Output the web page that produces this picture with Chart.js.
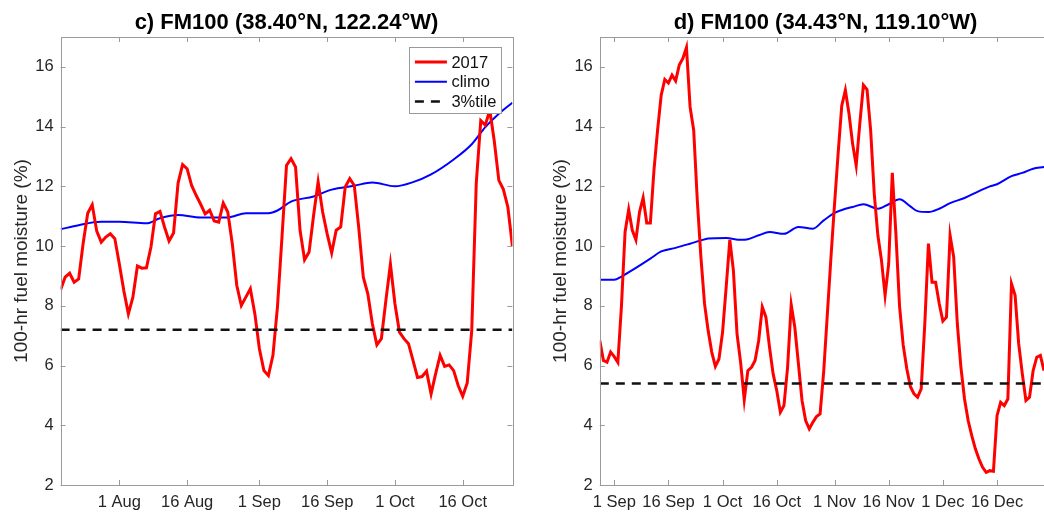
<!DOCTYPE html>
<html>
<head>
<meta charset="utf-8">
<title>FM100 2017</title>
<script src="https://cdn.jsdelivr.net/npm/chart.js@4.4.0/dist/chart.umd.min.js"></script>
<style>
  html, body { margin: 0; padding: 0; background: #fff; overflow: hidden; width: 1044px; height: 513px; }
  canvas { position: absolute; top: 0; }
  #chartC { left: 0; }
  #chartD { left: 540px; }
</style>
</head>
<body>
<canvas id="chartC" width="573" height="513"></canvas>
<canvas id="chartD" width="571" height="513"></canvas>
<script>
/*---------------------------- data, panel c ------------------------------*/
// one value per day, day 0 = 19 Jul 2017
var fm2017C = [
  8.54, 8.96, 9.09, 8.79, 8.90, 10.1, 11.1, 11.38, 10.5, 10.13,
  10.3, 10.41, 10.25, 9.4, 8.5, 7.73, 8.29, 9.33, 9.26, 9.27,
  9.97, 11.08, 11.16, 10.64, 10.17, 10.44, 12.11, 12.73, 12.59, 12.03,
  11.7, 11.4, 11.08, 11.2, 10.84, 10.8, 11.44, 11.14, 10.08, 8.68,
  8.01, 8.29, 8.57, 7.73, 6.56, 5.83, 5.66, 6.34, 7.96, 10.3,
  12.7, 12.93, 12.65, 10.53, 9.54, 9.8, 11.03, 12.15, 11.14, 10.41,
  9.77, 10.53, 10.64, 11.98, 12.26, 12.03, 10.6, 8.96, 8.4, 7.4,
  6.69, 6.9, 8.18, 9.4, 8.07, 7.12, 6.9, 6.73, 6.17, 5.6,
  5.63, 5.81, 5.05, 5.72, 6.34, 5.97, 6.02, 5.83, 5.33, 4.97,
  5.42, 7.17, 12.1, 14.2, 14.05, 14.55, 13.5, 12.2, 11.9, 11.3,
  10.0
];
var climoDaysC = [0, 4, 9, 13, 19, 22, 26, 31, 37, 41, 46, 48, 51, 56, 60, 65, 69, 74, 78, 82, 87, 91, 94, 97, 100];
var climoC = [10.56, 10.7, 10.81, 10.81, 10.76, 10.93, 11.04, 10.96, 10.96, 11.1, 11.1, 11.19, 11.49,
  11.66, 11.89, 12.02, 12.13, 12.0, 12.14, 12.4, 12.9, 13.41, 13.98, 14.43, 14.8];
var pctC = 7.2;
var lastDayC = 100;
var tickDaysC = [13, 28, 44, 59, 74, 89];
var tickNamesC = ['1 Aug', '16 Aug', '1 Sep', '16 Sep', '1 Oct', '16 Oct'];

/*---------------------------- data, panel d ------------------------------*/
// one value per day, day 0 = 28 Aug 2017
var fm2017D = [
  6.84, 6.17, 6.11, 6.45, 6.30, 6.11, 8.0, 10.47, 11.22, 10.53,
  10.21, 11.14, 11.62, 10.77, 10.77, 12.54, 13.88, 15.05, 15.58, 15.46,
  15.72, 15.53, 16.06, 16.28, 16.65, 14.66, 13.88, 11.53, 9.63, 8.07,
  7.17, 6.45, 5.97, 6.22, 7.12, 8.63, 10.21, 9.18, 7.06, 6.1,
  4.85, 5.83, 5.94, 6.17, 6.84, 7.96, 7.62, 6.61, 5.72, 5.16,
  4.44, 4.66, 5.94, 8.04, 7.28, 6.06, 4.83, 4.16, 3.88, 4.10,
  4.29, 4.38, 5.8, 7.7, 9.6, 11.4, 13.1, 14.7, 15.22, 14.44,
  13.43, 12.7, 14.1, 15.39, 15.24, 13.88, 11.75, 10.36, 9.52, 8.35,
  9.41, 12.45, 10.4, 8.0, 6.7, 5.9, 5.3, 5.05, 4.94, 5.22,
  7.4, 10.08, 8.79, 8.79, 8.07, 7.49, 7.62, 10.36, 9.63, 7.4,
  5.94, 4.88, 4.16, 3.65, 3.21, 2.87, 2.59, 2.42, 2.48, 2.46,
  4.32, 4.77, 4.66, 4.88, 8.74, 8.35, 6.73, 5.72, 4.83, 4.94,
  5.83, 6.28, 6.34, 5.83
];
var climoDaysD = [0, 4, 6, 10, 14, 17, 21, 25, 28, 30, 35, 39, 41, 44, 47, 51, 55, 59, 62, 65, 68, 70, 73,
  77, 80, 83, 86, 88, 91, 94, 97, 101, 105, 108, 110, 114, 117, 120, 123, 125];
var climoD = [8.87, 8.87, 8.98, 9.27, 9.58, 9.82, 9.94, 10.08, 10.19, 10.25, 10.27, 10.21, 10.23, 10.36,
  10.47, 10.41, 10.64, 10.58, 10.86, 11.11, 11.25, 11.31, 11.4, 11.25, 11.4, 11.57, 11.33, 11.17, 11.14,
  11.25, 11.44, 11.61, 11.84, 12.0, 12.07, 12.34, 12.45, 12.59, 12.65, 12.7];
var pctD = 5.4;
var lastDayD = 125;
var tickDaysD = [4, 19, 34, 49, 65, 80, 95, 110];
var tickNamesD = ['1 Sep', '16 Sep', '1 Oct', '16 Oct', '1 Nov', '16 Nov', '1 Dec', '16 Dec'];

var yTicks = [2, 4, 6, 8, 10, 12, 14, 16];
var yMin = 2, yMax = 17;

/*---------------------------- helpers ------------------------------------*/
var axisColor = '#9a9a9a';
var textColor = '#262626';
Chart.defaults.font.family = "'Liberation Sans', Arial, Helvetica, sans-serif";
Chart.defaults.color = textColor;

function daily(values) {
  return values.map(function (v, i) { return { x: i, y: v }; });
}
function pairs(xs, ys) {
  return xs.map(function (x, i) { return { x: x, y: ys[i] }; });
}

// MATLAB style box with inward ticks
var framePlugin = {
  id: 'frame',
  afterDraw: function (chart) {
    var a = chart.chartArea, ctx = chart.ctx;
    var xs = chart.scales.x, ys = chart.scales.y;
    ctx.save();
    ctx.strokeStyle = axisColor;
    ctx.lineWidth = 1;
    ctx.strokeRect(Math.round(a.left) + 0.5, Math.round(a.top) + 0.5,
      Math.round(a.right - a.left), Math.round(a.bottom - a.top));
    ctx.beginPath();
    xs.ticks.forEach(function (t) {
      var px = Math.round(xs.getPixelForValue(t.value)) + 0.5;
      ctx.moveTo(px, a.bottom); ctx.lineTo(px, a.bottom - 5);
      ctx.moveTo(px, a.top); ctx.lineTo(px, a.top + 5);
    });
    ys.ticks.forEach(function (t) {
      var py = Math.round(ys.getPixelForValue(t.value)) + 0.5;
      ctx.moveTo(a.left, py); ctx.lineTo(a.left + 5, py);
      ctx.moveTo(a.right, py); ctx.lineTo(a.right - 5, py);
    });
    ctx.stroke();
    ctx.restore();
  }
};

// legend box inside the top right corner of the axes
var boxLegend = {
  id: 'boxLegend',
  afterDraw: function (chart, args, opts) {
    if (!opts.show) return;
    var a = chart.chartArea, ctx = chart.ctx;
    var bx = a.right - 103.5, by = a.top + 10, bw = 92, bh = 66;
    ctx.save();
    ctx.fillStyle = '#fff';
    ctx.fillRect(bx, by, bw, bh);
    ctx.strokeStyle = axisColor;
    ctx.lineWidth = 1;
    ctx.strokeRect(Math.round(bx) + 0.5, Math.round(by) + 0.5, bw, bh);
    ctx.font = "16.5px 'Liberation Sans', Arial, sans-serif";
    ctx.textBaseline = 'middle';
    ctx.fillStyle = '#111';
    chart.data.datasets.forEach(function (ds, i) {
      var y = by + 15 + i * 19.7;
      ctx.beginPath();
      ctx.strokeStyle = ds.borderColor;
      ctx.lineWidth = ds.borderWidth;
      ctx.setLineDash(ds.borderDash || []);
      ctx.moveTo(bx + 6, y);
      ctx.lineTo(bx + 38, y);
      ctx.stroke();
      ctx.setLineDash([]);
      ctx.fillText(ds.label, bx + 42.5, y + 1);
    });
    ctx.restore();
  }
};

function makeChart(id, title, red, climoX, climo, pct, lastDay, tickDays, tickNames, axisW, titlePad, legend) {
  return new Chart(id, {
    type: 'line',
    data: {
      datasets: [{
        label: '2017',
        data: daily(red),
        borderColor: '#ff0000',
        borderWidth: 3,
        pointRadius: 0,
        order: 1
      }, {
        label: 'climo',
        data: pairs(climoX, climo),
        borderColor: '#0000ff',
        borderWidth: 2,
        pointRadius: 0,
        cubicInterpolationMode: 'monotone',
        order: 2
      }, {
        label: '3%tile',
        data: [{ x: 0, y: pct }, { x: lastDay, y: pct }],
        borderColor: '#111',
        borderWidth: 2.5,
        borderDash: [9, 7],
        pointRadius: 0,
        order: 0
      }]
    },
    options: {
      responsive: false,
      animation: false,
      layout: { padding: 0 },
      scales: {
        x: {
          type: 'linear',
          min: 0,
          max: lastDay,
          grid: { display: false, drawTicks: false },
          border: { display: false },
          afterBuildTicks: function (s) {
            s.ticks = tickDays.map(function (d) { return { value: d }; });
          },
          afterFit: function (s) { s.height = 28; },
          ticks: {
            autoSkip: false,
            maxRotation: 0,
            padding: 8,
            font: { size: 16.5 },
            callback: function (v) { return tickNames[tickDays.indexOf(v)]; }
          }
        },
        y: {
          min: yMin,
          max: yMax,
          grid: { display: false, drawTicks: false },
          border: { display: false },
          afterBuildTicks: function (s) {
            s.ticks = yTicks.map(function (v) { return { value: v }; });
          },
          afterFit: function (s) { s.width = axisW; },
          ticks: { padding: 7, font: { size: 16.5 } },
          title: {
            display: true,
            text: '100-hr fuel moisture (%)',
            font: { size: 19 },
            padding: { top: titlePad, bottom: 0 }
          }
        },
        // empty right axis, same width as the left one, so the title sits over the axes
        yRight: {
          position: 'right',
          min: yMin,
          max: yMax,
          grid: { display: false, drawTicks: false },
          border: { display: false },
          ticks: { display: false },
          afterFit: function (s) { s.width = axisW; }
        }
      },
      plugins: {
        legend: { display: false },
        tooltip: { enabled: false },
        title: {
          display: true,
          text: title,
          color: '#000',
          font: { size: 22, weight: 'bold', lineHeight: 1.15 },
          padding: { top: 10.5, bottom: 1.2 }
        },
        boxLegend: { show: legend }
      }
    },
    plugins: [framePlugin, boxLegend]
  });
}

/*---------------------------- c) panel ------------------------------------*/
makeChart('chartC', 'c) FM100 (38.40\u00b0N, 122.24\u00b0W)', fm2017C, climoDaysC, climoC, pctC,
  lastDayC, tickDaysC, tickNamesC, 60.6, 10.6, true);

/*---------------------------- d) panel ------------------------------------*/
makeChart('chartD', 'd) FM100 (34.43\u00b0N, 119.10\u00b0W)', fm2017D, climoDaysD, climoD, pctD,
  lastDayD, tickDaysD, tickNamesD, 59.8, 9.6, false);
</script>
</body>
</html>
